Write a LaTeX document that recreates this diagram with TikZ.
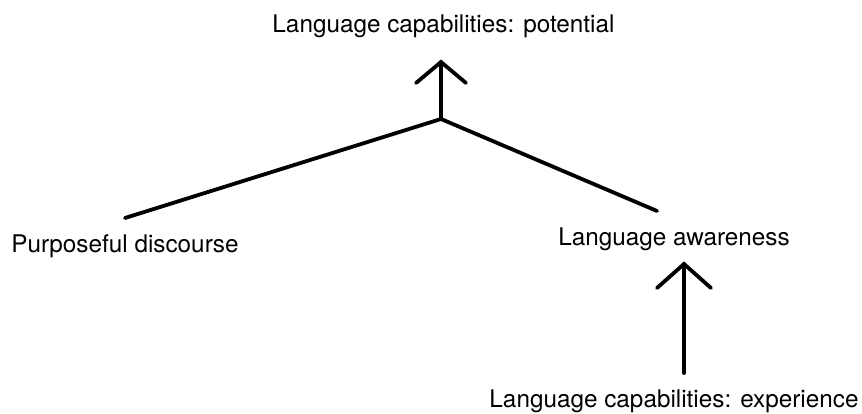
\documentclass[tikz,border=0pt]{standalone}
\usepackage{fontspec}
\setmainfont{TeX Gyre Heros}
\begin{document}
\begin{tikzpicture}[x=1pt,y=-1pt,
  lbl/.style={inner sep=0pt,anchor=base,font=\fontsize{24.3}{29}\selectfont},
  conn/.style={line width=3.8pt,line cap=round,line join=round},
  chev/.style={line width=3.8pt,line cap=round,line join=miter}]
\useasboundingbox (0,0) rectangle (862,414);
\node[lbl] (pot) at (443.5,33) {Language capabilities: potential};
\node[lbl] (pur) at (125,252) {Purposeful discourse};
\node[lbl] (awa) at (674,245) {Language awareness};
\node[lbl] (exp) at (674,407.5) {Language capabilities: experience};
\coordinate (j) at (441,119);
\coordinate (t1) at (441,62);
\coordinate (l) at (125,218);
\coordinate (r) at (657,211);
\coordinate (t2) at (684,264);
\coordinate (b2) at (684,373);
\draw[conn] (l) -- (j) -- (r);
\draw[conn] (j) -- (t1);
\draw[chev] ([shift={(-25,21)}]t1) -- (t1) -- ([shift={(25,21)}]t1);
\draw[conn] (b2) -- (t2);
\draw[chev] ([shift={(-27,24)}]t2) -- (t2) -- ([shift={(27,24)}]t2);
\end{tikzpicture}
\end{document}
